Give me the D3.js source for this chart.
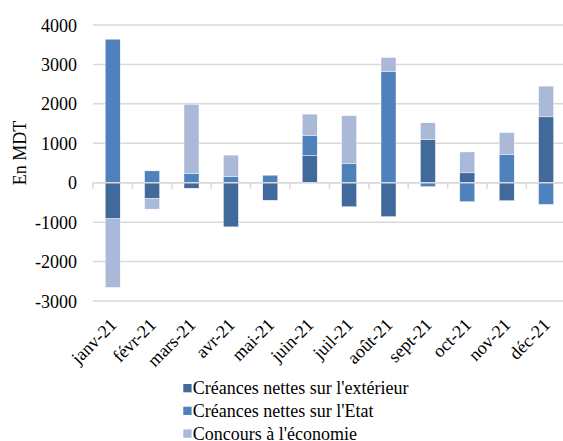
<!DOCTYPE html>
<html>
<head>
<meta charset="utf-8">
<script src="https://cdn.jsdelivr.net/npm/d3@7"></script>
<style>
  body { margin: 0; background: #fff; }
</style>
</head>
<body>
<div id="chart"></div>
<script>
// months on the x axis
const months = ["janv-21", "févr-21", "mars-21", "avr-21", "mai-21", "juin-21",
                "juil-21", "août-21", "sept-21", "oct-21", "nov-21", "déc-21"];
// series (MDT)
const exterieur = [-915, -400, -140, -1120, -445, 690, -610, -860, 1090, 250, -455, 1670];
const etat      = [3640, 300, 230, 160, 190, 500, 490, 2820, -100, -480, 710, -550];
const concours  = [-1740, -270, 1760, 540, 0, 550, 1210, 355, 430, 530, 560, 780];

const seriesNames = ["Créances nettes sur l'extérieur", "Créances nettes sur l'Etat", "Concours à l'économie"];
const seriesKeys = ["ext", "etat", "conc"];
const colors = ["#41699b", "#4f81bd", "#aab9d8"];
const yTicks = [-3000, -2000, -1000, 0, 1000, 2000, 3000, 4000];

const FONT = "'Liberation Serif', 'Times New Roman', Times, serif";
const FS = "18px";

let width = 563, height = 441;
let margin = {left: 93, top: 25};
let plotRight = 93 + 12 * 39.4;

let svg = d3.select("#chart").append("svg")
    .attr("width", width)
    .attr("height", height)
    .attr("font-family", FONT);

// build table for stacking
let table = months.map((m, i) => ({month: m, ext: exterieur[i], etat: etat[i], conc: concours[i]}));

let x = d3.scaleBand().domain(months).range([margin.left, plotRight]).padding(0);
let y = d3.scaleLinear().domain([-3000, 4000]).range([301, 25]);

// gridlines
svg.append("g").selectAll("line")
    .data(yTicks)
    .join("line")
    .attr("x1", margin.left)
    .attr("x2", plotRight)
    .attr("y1", d => y(d))
    .attr("y2", d => y(d))
    .attr("stroke", "#d9d9d9")
    .attr("stroke-width", 1.5);

// y tick labels
svg.append("g").selectAll("text")
    .data(yTicks)
    .join("text")
    .attr("x", 77)
    .attr("y", d => y(d) + 6.5)
    .attr("text-anchor", "end")
    .style("font-size", FS)
    .text(d => d);

// y title
svg.append("text")
    .attr("transform", "translate(25.5,153) rotate(-90)")
    .attr("text-anchor", "middle")
    .style("font-size", FS)
    .text("En MDT");

// stacked bars
let stack = d3.stack().keys(seriesKeys).offset(d3.stackOffsetDiverging);
let layers = stack(table);
let barW = x.bandwidth() * 0.38;

svg.append("g").selectAll("g")
    .data(layers)
    .join("g")
    .attr("fill", (d, i) => colors[i])
    .selectAll("rect")
    .data(d => d)
    .join("rect")
    .attr("x", d => x(d.data.month) + (x.bandwidth() - barW) / 2)
    .attr("y", d => y(Math.max(d[0], d[1])))
    .attr("width", barW)
    .attr("height", d => Math.abs(y(d[0]) - y(d[1])))
    .attr("stroke", "#fff")
    .attr("stroke-width", 0.4);

// zero axis with category ticks
svg.append("line")
    .attr("x1", margin.left).attr("x2", plotRight)
    .attr("y1", y(0)).attr("y2", y(0))
    .attr("stroke", "#d9d9d9").attr("stroke-width", 1.5);
let bounds = months.map(m => x(m)).concat([plotRight]);
svg.append("g").selectAll("line")
    .data(bounds)
    .join("line")
    .attr("x1", d => d).attr("x2", d => d)
    .attr("y1", y(0)).attr("y2", y(0) + 6)
    .attr("stroke", "#d9d9d9").attr("stroke-width", 1.5);

// month labels, rotated
svg.append("g").selectAll("text")
    .data(months)
    .join("text")
    .attr("transform", d => `translate(${x(d) + x.bandwidth() / 2 + 5},${326}) rotate(-45)`)
    .attr("text-anchor", "end")
    .style("font-size", FS)
    .text(d => d);

// legend
let legend = svg.append("g").selectAll("g")
    .data(seriesNames)
    .join("g")
    .attr("transform", (d, i) => `translate(183.3,${384 + i * 22.7})`);
legend.append("rect")
    .attr("width", 8.3).attr("height", 8.3)
    .attr("fill", (d, i) => colors[i]);
legend.append("text")
    .attr("x", 9.5).attr("y", 10.3)
    .style("font-size", FS)
    .text(d => d);
</script>
</body>
</html>
